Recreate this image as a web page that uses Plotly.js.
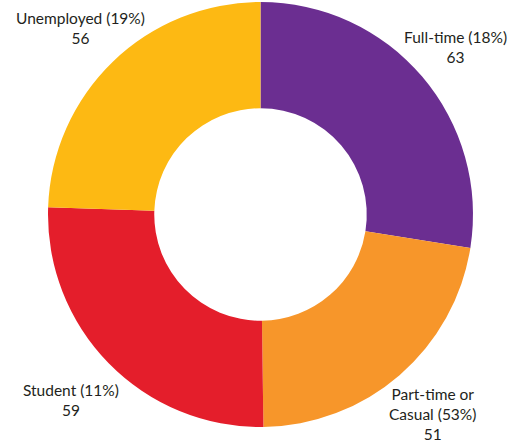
<!DOCTYPE html>
<html>
<head>
<meta charset="utf-8">
<script src="https://cdn.plot.ly/plotly-3.0.1.min.js"></script>
<style>html,body{margin:0;padding:0;background:#fff;}#chart{width:517px;height:444px;}</style>
</head>
<body>
<div id="chart"></div>
<script>
// Data
const categories = ["Full-time", "Part-time or Casual", "Student", "Unemployed"];
const labelTexts = ["Full-time (18%)", "Part-time or<br>Casual (53%)", "Student (11%)", "Unemployed (19%)"];
const values = [63, 51, 59, 56];

// Styles / layout positions (pixels in the 517x444 canvas)
const colors = ["#6B2E91", "#F7962A", "#E41E2B", "#FDB913"];
const labelPx = [[455, 47.5], [432, 414], [71, 400], [80.5, 28.5]];
const W = 517, H = 444;

const trace = {
  type: "pie",
  labels: categories,
  values: values,
  hole: 0.5,
  sort: false,
  direction: "clockwise",
  rotation: 0,
  textinfo: "none",
  hoverinfo: "label+value",
  marker: {colors: colors, line: {width: 0}},
  domain: {x: [48 / W, 473 / W], y: [17 / H, 442 / H]},
  showlegend: false
};

const annotations = categories.map((c, i) => ({
  xref: "paper", yref: "paper",
  x: labelPx[i][0] / W, y: 1 - labelPx[i][1] / H,
  xanchor: "center", yanchor: "middle",
  text: labelTexts[i] + "<br>" + values[i],
  showarrow: false,
  align: "center",
  font: {family: "Lato, sans-serif", size: 15.5, color: "#231F20"}
}));

const layout = {
  width: W, height: H,
  margin: {l: 0, r: 0, t: 0, b: 0},
  paper_bgcolor: "#ffffff",
  annotations: annotations,
  showlegend: false
};

Plotly.newPlot("chart", [trace], layout, {displayModeBar: false, staticPlot: true});
</script>
</body>
</html>
